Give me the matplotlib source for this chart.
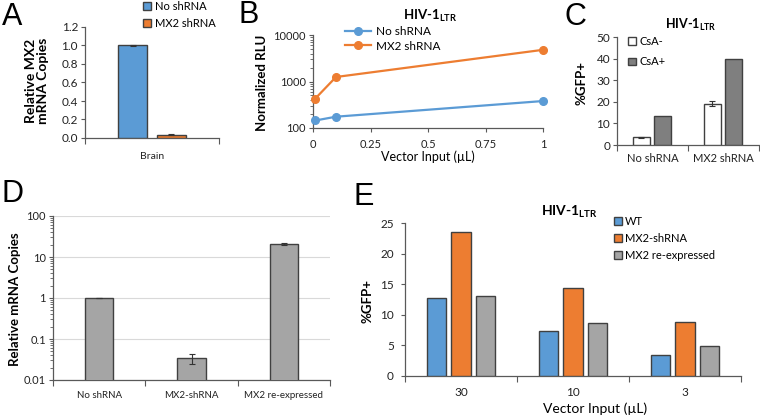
import numpy as np
import matplotlib
matplotlib.use("Agg")
import matplotlib.pyplot as plt
from matplotlib.ticker import FixedLocator, NullFormatter, LogLocator

# ---- data ----
a_groups = ["Brain"]
a_no_shrna = [1.0]
a_no_err = [0.004]
a_mx2_shrna = [0.035]
a_mx2_err = [0.005]

b_x = [0.01, 0.1, 1]
b_no_shrna = [145, 175, 380]
b_mx2_shrna = [430, 1250, 4800]

c_groups = ["No shRNA", "MX2 shRNA"]
c_csa_minus = [3.5, 19.2]
c_csa_minus_err = [0.2, 1.3]
c_csa_plus = [13.5, 40.0]

d_groups = ["No shRNA", "MX2-shRNA", "MX2 re-expressed"]
d_values = [1.0, 0.034, 20.5]
d_err = [0.01, 0.009, 1.0]

e_groups = ["30", "10", "3"]
e_wt = [12.8, 7.4, 3.5]
e_mx2_shrna = [23.5, 14.3, 8.9]
e_re_expressed = [13.1, 8.7, 4.9]

BLUE = "#5B9BD5"
ORANGE = "#ED7D31"
GRAY = "#A5A5A5"
DARK = "#7F7F7F"
EDGE = "#404040"
SPINE = "#595959"

plt.rcParams["font.family"] = ["Lato", "DejaVu Sans"]
plt.rcParams["mathtext.fontset"] = "custom"
plt.rcParams["mathtext.rm"] = "Lato"
plt.rcParams["mathtext.bf"] = "Lato:bold"
plt.rcParams["axes.edgecolor"] = SPINE
plt.rcParams["xtick.color"] = SPINE
plt.rcParams["ytick.color"] = SPINE
plt.rcParams["xtick.labelcolor"] = "#222222"
plt.rcParams["ytick.labelcolor"] = "#222222"

W, H = 760, 416
fig = plt.figure(figsize=(W / 100, H / 100), dpi=100)


def rect(l, t, r, b):
    return [l / W, 1 - b / H, (r - l) / W, (b - t) / H]


def ftext(x, y, s, **kw):
    fig.text(x / W, 1 - y / H, s, **kw)


def base_style(ax, fs=7.5):
    for s in ["top", "right"]:
        ax.spines[s].set_visible(False)
    for s in ["left", "bottom"]:
        ax.spines[s].set_linewidth(0.9)
    ax.tick_params(axis="y", direction="out", length=3, width=0.8, labelsize=fs, pad=2)
    ax.tick_params(axis="x", direction="out", length=3, width=0.8, labelsize=fs)


def category_axis(ax, labels, fs=7.5, pad=4):
    n = len(labels)
    ax.set_xlim(-0.5, n - 0.5)
    ax.xaxis.set_major_locator(FixedLocator(np.arange(n + 1) - 0.5))
    ax.xaxis.set_major_formatter(NullFormatter())
    ax.xaxis.set_minor_locator(FixedLocator(np.arange(n)))
    ax.set_xticks(np.arange(n), labels, minor=True)
    ax.tick_params(axis="x", which="major", length=4, width=0.8)
    ax.tick_params(axis="x", which="minor", length=0, labelsize=fs, pad=pad)


bar_kw = dict(edgecolor=EDGE, linewidth=1.0, zorder=3)
err_kw = dict(fmt="none", ecolor="#333333", elinewidth=0.8, capsize=2.5, capthick=0.8, zorder=4)

# ---- A ----
axA = fig.add_axes(rect(85, 27, 219, 138))
base_style(axA)
xa = np.arange(len(a_groups))
axA.bar(xa - 0.145, a_no_shrna, 0.22, color=BLUE, label="No shRNA", **bar_kw)
axA.bar(xa + 0.145, a_mx2_shrna, 0.22, color=ORANGE, label="MX2 shRNA", **bar_kw)
axA.errorbar(xa - 0.145, a_no_shrna, yerr=a_no_err, **err_kw)
axA.errorbar(xa + 0.145, a_mx2_shrna, yerr=a_mx2_err, **err_kw)
axA.set_ylim(0, 1.2)
axA.set_yticks(np.arange(0, 1.21, 0.2), [f"{v:.1f}" for v in np.arange(0, 1.21, 0.2)])
axA.tick_params(axis="y", labelsize=8.5)
category_axis(axA, a_groups, fs=7.5, pad=10)
axA.legend(loc="upper left", bbox_to_anchor=(143 / W, 1 - 1 / H), bbox_transform=fig.transFigure,
           frameon=False, fontsize=8, handlelength=0.7, handleheight=0.7, handletextpad=0.4,
           labelspacing=0.5, borderpad=0, borderaxespad=0)
ftext(37, 81, "Relative MX2\nmRNA Copies", rotation=90, ha="center", va="center",
      fontsize=10, fontweight="bold", linespacing=1.05)

# ---- B ----
axB = fig.add_axes(rect(313, 35, 543, 128))
base_style(axB)
axB.plot(b_x, b_no_shrna, color=BLUE, marker="o", markersize=5.5, linewidth=1.6, label="No shRNA",
         clip_on=False, zorder=3)
axB.plot(b_x, b_mx2_shrna, color=ORANGE, marker="o", markersize=5.5, linewidth=1.6, label="MX2 shRNA",
         clip_on=False, zorder=3)
axB.set_yscale("log")
axB.set_ylim(100, 10000)
axB.set_yticks([100, 1000, 10000], ["100", "1000", "10000"])
axB.yaxis.set_minor_locator(LogLocator(base=10, subs=np.arange(2, 10)))
axB.yaxis.set_minor_formatter(NullFormatter())
axB.tick_params(axis="y", which="minor", length=2, width=0.6)
axB.tick_params(axis="y", labelsize=8)
axB.set_xlim(0, 1)
axB.set_xticks([0, 0.25, 0.5, 0.75, 1], ["0", "0.25", "0.5", "0.75", "1"])
axB.tick_params(axis="x", labelsize=8, pad=5)
axB.legend(loc="upper left", bbox_to_anchor=(345 / W, 1 - 26 / H), bbox_transform=fig.transFigure,
           frameon=False, fontsize=8.5, handlelength=2.2, handletextpad=0.4,
           labelspacing=0.3, borderpad=0, borderaxespad=0)
ftext(262, 83, "Normalized RLU", rotation=90, ha="center", va="center", fontsize=9.5, fontweight="bold")
ftext(428, 157, "Vector Input (µL)", ha="center", va="center", fontsize=9)
ftext(430, 16, r"HIV-1$_{\mathbf{LTR}}$", ha="center", va="center", fontsize=9.5, fontweight="bold")

# ---- C ----
axC = fig.add_axes(rect(617, 37, 759, 145))
base_style(axC)
xc = np.arange(len(c_groups))
axC.bar(xc - 0.155, c_csa_minus, 0.24, color="white", label="CsA-", **bar_kw)
axC.bar(xc + 0.135, c_csa_plus, 0.24, color=DARK, label="CsA+", **bar_kw)
axC.errorbar(xc - 0.155, c_csa_minus, yerr=c_csa_minus_err, **err_kw)
axC.set_ylim(0, 50)
axC.set_yticks(np.arange(0, 51, 10))
axC.tick_params(axis="y", labelsize=8.5)
category_axis(axC, c_groups, fs=8, pad=6)
axC.legend(loc="upper left", bbox_to_anchor=(628 / W, 1 - 36 / H), bbox_transform=fig.transFigure,
           frameon=False, fontsize=8, handlelength=0.7, handleheight=0.7, handletextpad=0.3,
           labelspacing=0.85, borderpad=0, borderaxespad=0)
ftext(582, 83, "%GFP+", rotation=90, ha="center", va="center", fontsize=9.5, fontweight="bold")
ftext(691, 25, r"HIV-1$_{\mathbf{LTR}}$", ha="center", va="center", fontsize=9, fontweight="bold")

# ---- D ----
axD = fig.add_axes(rect(53, 216, 330, 380))
base_style(axD)
xd = np.arange(len(d_groups))
axD.bar(xd, d_values, 0.31, color=GRAY, **bar_kw)
axD.errorbar(xd, d_values, yerr=d_err, **err_kw)
axD.set_yscale("log")
axD.set_ylim(0.01, 100)
axD.set_yticks([0.01, 0.1, 1, 10, 100], ["0.01", "0.1", "1", "10", "100"])
axD.yaxis.set_minor_locator(LogLocator(base=10, subs=np.arange(2, 10)))
axD.yaxis.set_minor_formatter(NullFormatter())
axD.tick_params(axis="y", which="minor", length=2, width=0.6)
axD.tick_params(axis="y", labelsize=8)
axD.grid(axis="y", which="major", color="#D9D9D9", linewidth=0.8, zorder=0)
axD.set_axisbelow(True)
category_axis(axD, d_groups, fs=7, pad=8)
ftext(15, 299, "Relative mRNA Copies", rotation=90, ha="center", va="center",
      fontsize=9.5, fontweight="bold")

# ---- E ----
axE = fig.add_axes(rect(405, 223, 741, 376))
base_style(axE)
xe = np.arange(len(e_groups))
axE.bar(xe - 0.22, e_wt, 0.175, color=BLUE, label="WT", **bar_kw)
axE.bar(xe, e_mx2_shrna, 0.175, color=ORANGE, label="MX2-shRNA", **bar_kw)
axE.bar(xe + 0.22, e_re_expressed, 0.175, color=GRAY, label="MX2 re-expressed", **bar_kw)
axE.set_ylim(0, 25)
axE.set_yticks(np.arange(0, 26, 5))
axE.tick_params(axis="y", labelsize=8.5, pad=5)
category_axis(axE, e_groups, fs=8.5, pad=8)
axE.legend(loc="upper left", bbox_to_anchor=(614 / W, 1 - 216 / H), bbox_transform=fig.transFigure,
           frameon=False, fontsize=8, handlelength=0.7, handleheight=0.7, handletextpad=0.3,
           labelspacing=0.55, borderpad=0, borderaxespad=0)
ftext(367, 301, "%GFP+", rotation=90, ha="center", va="center", fontsize=9.5, fontweight="bold")
ftext(595, 409, "Vector Input (µL)", ha="center", va="center", fontsize=10)
ftext(569, 212, r"HIV-1$_{\mathbf{LTR}}$", ha="center", va="center", fontsize=10, fontweight="bold")

# ---- panel letters ----
for letter, x, y in [("A", 2, 25), ("B", 239, 23), ("C", 564, 25), ("D", 1, 202), ("E", 354, 205)]:
    ftext(x, y, letter, ha="left", va="baseline", fontsize=22, family="Liberation Sans")

fig.savefig("out.png", dpi=100)
